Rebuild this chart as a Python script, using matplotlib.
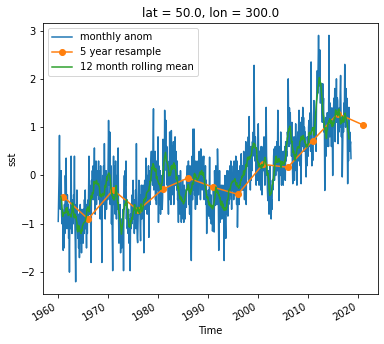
import matplotlib
matplotlib.use("Agg")
import matplotlib.pyplot as plt
import numpy as np
import pandas as pd

# monthly SST anomaly (degC), Jan 1960 .. Sep 2018, one row per year
sst_anom = [
    -0.95, -0.4, 0.0, 0.83, -0.3, -0.7, -0.5, 0.1, -0.8, -1.0, -0.7, -0.8,          # 1960
    -1.55, -0.9, -1.5, -0.6, -1.2, 0.0, -0.5, 0.36, -0.9, -1.1, -0.4, -0.8,         # 1961
    -0.6, -1.3, -0.9, -2.0, -0.7, -1.1, -0.3, 0.4, -0.8, -1.2, -0.5, -0.9,          # 1962
    -1.0, -0.4, -0.7, 0.4, -0.9, -1.4, -2.2, -0.6, -1.1, -0.3, -0.9, -1.3,          # 1963
    -0.8, -1.5, -1.0, -1.7, -1.2, -0.6, -1.4, -0.9, -1.6, -0.7, -1.3, -1.1,         # 1964
    -1.4, -0.7, -1.2, -0.5, -1.0, -0.3, -1.1, -0.8, -1.5, -0.6, -1.2, -0.51,        # 1965
    -0.9, -0.3, 0.4, -0.8, -0.2, -0.6, -1.0, -1.8, -0.1, -0.5, 0.1, -0.4,           # 1966
    0.2, -0.5, 0.0, 0.57, -0.3, -0.8, -0.1, 0.3, -0.6, -0.2, 0.1, -0.4,             # 1967
    -0.1, 0.3, -0.5, 0.1, -0.3, -0.9, 0.2, -0.4, -0.7, -1.8, -0.6, 0.0,             # 1968
    -0.6, 0.2, -0.3, 0.66, -0.2, -0.9, -0.4, 0.1, -0.7, -0.3, 0.0, -0.5,            # 1969
    0.3, 1.14, 0.5, -0.2, 0.9, -0.6, -0.1, 0.2, -1.0, -0.5, -1.2, -1.97,            # 1970
    -0.3, 0.4, -0.6, 0.2, -0.1, -0.8, 0.3, -0.5, -0.9, 0.0, -0.7, -0.4,             # 1971
    0.57, -0.8, -1.4, -1.0, -1.3, -0.6, -1.6, -1.2, -0.9, -1.5, -1.1, -1.3,         # 1972
    -0.7, -1.97, -0.4, 0.0, -0.6, 0.1, -0.2, 0.3, -0.9, -0.5, -1.1, -0.8,           # 1973
    -1.2, -0.7, -1.4, -0.9, -1.3, -1.97, -0.8, -1.1, -0.6, -1.0, -0.4, -0.9,        # 1974
    -0.1, -0.9, -0.5, -1.2, -0.7, -1.0, -0.3, -1.1, 0.66, -0.8, -1.3, -1.39,        # 1975
    -0.9, -0.5, -0.1, -0.8, -0.4, -1.0, -1.35, -0.6, -0.2, -0.9, -0.3, -0.7,        # 1976
    -0.2, -0.9, -1.6, -0.5, -0.1, -0.7, -0.3, 0.36, -0.6, -0.2, -0.8, 0.0,          # 1977
    -0.3, 0.2, -1.28, -0.4, 0.1, -0.6, -0.2, 0.3, 0.5, -0.1, 0.4, -0.2,             # 1978
    0.66, 1.38, -0.3, 0.2, -0.2, 0.5, -0.5, 0.1, -0.6, 0.3, -0.3, 0.26,             # 1979
    0.8, -0.97, 0.2, -0.6, -0.3, 0.1, -0.8, -0.2, -0.5, 0.0, -0.7, -0.46,           # 1980
    0.75, 0.2, 0.5, -0.3, 1.35, 0.4, 0.9, 1.14, 0.1, 0.6, -0.2, 0.3,                # 1981
    -0.3, -0.8, 0.2, -0.5, 0.9, -0.2, 0.4, -0.6, 0.93, 0.1, -0.4, 0.6,              # 1982
    0.2, 0.7, -0.6, 0.4, 0.1, 0.8, -0.2, 0.5, 0.0, -0.3, 0.3, -0.5,                 # 1983
    -0.4, -0.97, 0.0, -0.6, -0.2, -0.8, 0.1, -0.5, -0.97, -0.3, -0.7, -0.1,         # 1984
    -0.9, -0.4, -0.97, -0.2, -0.6, -0.9, -0.5, -0.3, -0.66, 0.0, 0.2, 0.2,          # 1985
    -0.3, 0.3, -0.6, -0.1, -0.8, 0.2, -0.4, -0.9, -1.76, -0.2, 0.4, -0.5,           # 1986
    0.96, -0.3, 0.2, 0.96, -0.4, 0.1, -0.7, 0.3, -0.5, 0.0, -0.6, 0.2,              # 1987
    0.3, -0.4, 0.1, 0.5, -0.2, 0.2, -0.5, 0.55, 0.0, 0.4, -0.3, 0.1,                # 1988
    -0.2, 0.3, 0.4, -0.5, 0.1, -0.3, 0.2, -0.6, -0.1, -1.2, -0.4, -0.8,             # 1989
    -0.8, -0.3, -0.84, -0.5, 0.38, -0.6, -0.9, -0.4, -1.0, -0.7, -0.8, -1.15,       # 1990
    -0.97, -0.2, -0.5, -1.17, 0.1, -0.3, -0.62, 0.2, -0.4, 0.0, -0.6, 0.55,         # 1991
    0.1, -0.5, -1.55, -0.8, 0.1, -0.97, -0.3, -0.6, -0.2, -0.9, -0.4, -0.7,         # 1992
    -0.2, -0.9, -0.5, -1.76, -0.6, 0.0, -1.0, -1.3, -0.4, -0.8, 0.1, -0.6,          # 1993
    -0.84, -0.3, -0.6, 0.1, -0.5, 0.2, -0.4, 0.3, -0.2, -0.7, 0.0, -0.3,            # 1994
    -0.1, 0.2, -0.5, 0.3, -0.2, 0.1, -0.4, 0.4, 0.0, -0.6, 0.3, -1.07,              # 1995
    -0.5, -0.2, 0.1, -0.6, -0.3, 0.2, -0.4, -0.1, 0.45, -0.2, 0.1, -0.3,            # 1996
    0.2, -0.3, 0.5, 0.0, -0.5, 0.4, 0.1, 0.7, -0.6, 0.3, 0.6, 0.2,                  # 1997
    0.3, 0.8, -0.1, 1.22, 0.4, 0.6, -0.3, 0.5, -0.1, 0.6, 0.1, 0.7,                 # 1998
    0.4, 0.9, 0.5, 2.28, 1.0, 0.3, 0.8, 0.55, -0.2, 0.4, 0.1, -0.1,                 # 1999
    0.2, 1.07, 0.3, -0.2, 0.5, 0.0, 0.4, -0.3, 0.6, 0.1, -0.4, 0.03,                # 2000
    0.35, 0.6, 0.1, 0.8, 0.3, -0.2, 0.5, 0.0, 1.41, 0.4, 0.2, -0.3,                 # 2001
    -0.52, 0.1, -0.2, -0.8, -0.4, 0.2, -0.6, -0.3, -0.9, -0.5, -0.7, -0.1,          # 2002
    -0.3, 0.1, 0.4, 0.55, -0.1, 0.3, 0.6, 0.0, 0.5, 0.2, 0.7, 0.1,                  # 2003
    1.35, 0.2, -0.1, -0.52, 0.6, 0.3, 0.0, 0.9, 0.4, -0.2, 0.5, 0.1,                # 2004
    0.2, -0.2, 0.5, 0.38, 0.0, 0.6, -0.1, 0.7, 0.3, 0.5, 0.4, 0.9,                  # 2005
    0.8, 2.0, 1.2, 0.6, 1.4, 0.9, 1.3, 0.66, 1.0, 0.4, 1.1, 0.3,                    # 2006
    -0.17, 0.6, 0.2, 0.8, -0.1, 0.5, 0.3, 1.07, 0.1, 0.4, -0.2, 0.6,                # 2007
    0.9, 0.3, 1.0, 1.35, 0.5, 0.8, 0.2, 1.1, -0.17, 0.7, 1.2, 0.6,                  # 2008
    1.41, 0.8, 1.2, 0.5, 1.0, 0.7, 0.9, 0.3, -0.03, 0.6, 0.2, 0.8,                  # 2009
    0.7, 0.4, 1.0, 1.14, 0.6, 0.9, 1.3, 0.5, 2.35, 0.8, 0.2, 0.69,                  # 2010
    0.31, 0.8, 1.2, 1.55, 0.9, 1.3, 0.66, 1.1, 0.5, 1.4, 1.8, 2.17,                 # 2011
    1.7, 2.4, 2.9, 2.2, 1.86, 2.6, 1.5, 1.5, 1.9, 1.8, 1.4, 1.1,                    # 2012
    1.9, 1.4, 1.6, 0.9, 1.1, -0.31, 0.8, 1.2, 0.4, 0.9, 0.6, 1.3,                   # 2013
    0.7, 1.0, 0.6, 2.9, 1.2, 0.8, 1.5, 0.9, 1.2, 0.6, 1.4, 0.9,                     # 2014
    0.0, 0.9, 1.35, 1.6, 1.0, 1.8, 0.7, 1.5, 1.2, 2.0, 1.1, 1.61,                   # 2015
    1.55, 0.66, 1.2, 0.9, 1.4, 1.0, 1.7, 2.07, 1.3, 0.8, 1.2, -0.03,                # 2016
    0.6, 1.2, 0.9, 1.5, 1.1, 2.3, 1.4, 1.0, 1.8, 1.2, 1.6, 0.9,                     # 2017
    -0.17, 0.8, 0.3, 1.41, 0.5, 0.9, 0.61, 0.7, 0.35,                               # 2018
]

# 5 year resample (bin end dates and means)
resample_dates = ["1960-12-31", "1965-12-31", "1970-12-31", "1975-12-31", "1980-12-31",
                  "1985-12-31", "1990-12-31", "1995-12-31", "2000-12-31", "2005-12-31",
                  "2010-12-31", "2015-12-31", "2020-12-31"]
resample_vals = [-0.435, -0.90, -0.30, -0.72, -0.28, -0.05, -0.24, -0.39, 0.23, 0.17,
                 0.72, 1.28, 1.05]

time = pd.date_range("1960-01-01", periods=len(sst_anom), freq="MS")
monthly = pd.Series(sst_anom, index=time)
rolling = monthly.rolling(12, center=True).mean()
res = pd.Series(resample_vals, index=pd.to_datetime(resample_dates))

fig = plt.figure(figsize=(384 / 72, 344 / 72), dpi=72)
ax = fig.add_axes([0.112, 0.145, 0.872, 0.788])
ax.plot(monthly.index, monthly.values, label="monthly anom")
ax.plot(res.index, res.values, marker="o", label="5 year resample")
ax.plot(rolling.index, rolling.values, label="12 month rolling mean")
ax.set_title("lat = 50.0, lon = 300.0")
ax.set_xlabel("Time")
ax.set_ylabel("sst")
ax.legend(loc="upper left")
for lbl in ax.get_xticklabels():
    lbl.set_rotation(30)
    lbl.set_ha("right")
fig.savefig("out.png", dpi=72)
